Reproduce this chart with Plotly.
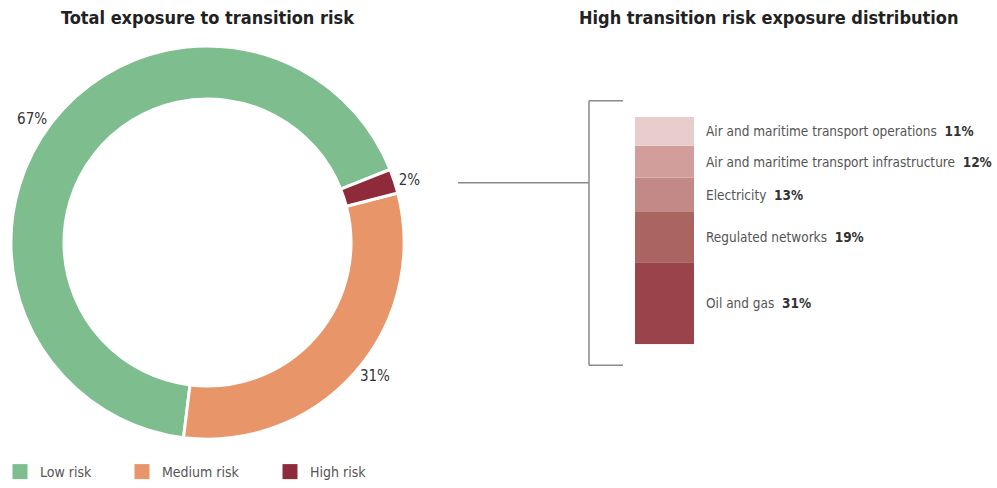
import plotly.graph_objects as go

W, H = 997, 488

# Donut data (Plotly counterclockwise order)
risk_labels = ["Low risk", "Medium risk", "High risk"]
risk_values = [67, 31, 2]
risk_colors = ["#7ebd8d", "#e8956a", "#8f2a3a"]

# Stacked bar data (bottom to top)
sectors = ["Oil and gas", "Regulated networks", "Electricity",
           "Air and maritime transport infrastructure",
           "Air and maritime transport operations"]
sector_values = [31, 19, 13, 12, 11]
sector_colors = ["#9b434a", "#ab6561", "#c38987", "#d29e9c", "#e8cdcd"]

FONT = "DejaVu Sans Condensed, Liberation Sans Narrow, Arial Narrow, sans-serif"

def px(x):
    return x / W

def py(y):
    return 1 - y / H

fig = go.Figure()

fig.add_trace(go.Pie(
    labels=risk_labels, values=risk_values,
    marker=dict(colors=risk_colors, line=dict(color="white", width=3)),
    hole=0.73, sort=False, direction="counterclockwise", rotation=187,
    textposition="outside", texttemplate="%{value}%",
    textfont=dict(family=FONT, size=15, color="#333333"),
    domain=dict(x=[px(10.5), px(404.5)], y=[py(440), py(46)]),
    showlegend=False, hoverinfo="label+percent",
))

# Legend entries (one legend per risk class, positioned like the reference)
legend_x = {"Low risk": 0, "Medium risk": 122, "High risk": 270}
legend_ids = {"Low risk": "legend", "Medium risk": "legend2", "High risk": "legend3"}
for lab, col in zip(risk_labels, risk_colors):
    fig.add_trace(go.Scatter(
        x=[None], y=[None], mode="markers", name=lab,
        marker=dict(symbol="square", size=15, color=col),
        legend=legend_ids[lab], showlegend=True, hoverinfo="skip",
    ))

total = sum(sector_values)
cum = 0
for name, v, c in zip(sectors, sector_values, sector_colors):
    fig.add_trace(go.Bar(
        x=[0], y=[v], base=[cum], width=1, marker=dict(color=c, line=dict(width=0)),
        name=name, showlegend=False, xaxis="x2", yaxis="y2",
    ))
    fig.add_annotation(
        x=0.5, y=cum + v / 2, xref="x2", yref="y2", xanchor="left", yanchor="middle",
        xshift=10, showarrow=False,
        text=f"<span style='color:#555555'>{name}</span>  <b>{v}%</b>",
        font=dict(family=FONT, size=13.5, color="#333333"),
    )
    cum += v

leg_common = dict(orientation="h", y=py(473), xanchor="left", yanchor="middle",
                  font=dict(family=FONT, size=14, color="#555555"),
                  itemclick=False, itemdoubleclick=False, bgcolor="rgba(0,0,0,0)")

fig.update_layout(
    width=W, height=H,
    margin=dict(l=0, r=0, t=0, b=0),
    paper_bgcolor="white", plot_bgcolor="white",
    barmode="overlay",
    xaxis2=dict(domain=[px(635), px(694)], range=[-0.5, 0.5], visible=False, anchor="y2"),
    yaxis2=dict(domain=[py(345), py(117)], range=[0, total], visible=False, anchor="x2"),
    xaxis=dict(visible=False, domain=[0, 0.01]), yaxis=dict(visible=False, domain=[0, 0.01]),
    legend=dict(x=px(legend_x["Low risk"]), **leg_common),
    legend2=dict(x=px(legend_x["Medium risk"]), **leg_common),
    legend3=dict(x=px(legend_x["High risk"]), **leg_common),
    showlegend=True,
)

fig.add_annotation(x=px(208), y=py(18), xref="paper", yref="paper", showarrow=False,
                   xanchor="center", yanchor="middle",
                   text="<b>Total exposure to transition risk</b>",
                   font=dict(family=FONT, size=18, color="#222222"))
fig.add_annotation(x=px(768), y=py(18), xref="paper", yref="paper", showarrow=False,
                   xanchor="center", yanchor="middle",
                   text="<b>High transition risk exposure distribution</b>",
                   font=dict(family=FONT, size=18, color="#222222"))

line = dict(color="#8a8a8a", width=1.5)
fig.add_shape(type="line", xref="paper", yref="paper", x0=px(589), x1=px(589), y0=py(101), y1=py(366), line=line)
fig.add_shape(type="line", xref="paper", yref="paper", x0=px(589), x1=px(623), y0=py(101), y1=py(101), line=line)
fig.add_shape(type="line", xref="paper", yref="paper", x0=px(589), x1=px(623), y0=py(366), y1=py(366), line=line)
fig.add_shape(type="line", xref="paper", yref="paper", x0=px(458), x1=px(589), y0=py(183), y1=py(183), line=line)

fig.write_html("out.html", config={"displayModeBar": False},
               post_script="document.body.style.margin='0';")
